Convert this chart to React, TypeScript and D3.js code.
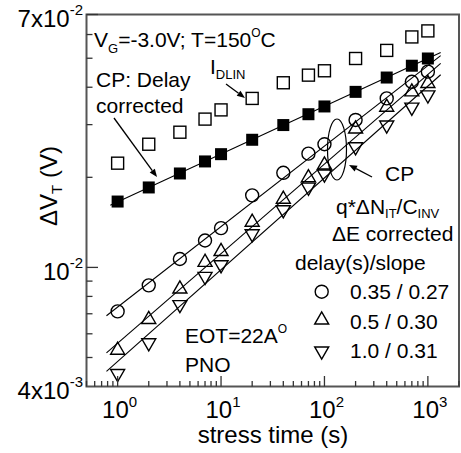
import React from 'react';
import * as d3 from 'd3';

const times = [1, 2, 4, 7, 10, 20, 40, 70, 100, 200, 400, 700, 1000];
const idlin = [0.0223, 0.0258, 0.0283, 0.0313, 0.0336, 0.0367, 0.0414, 0.0439, 0.0454, 0.0499, 0.0531, 0.0589, 0.0617];
const cpDelay = [0.0166, 0.0185, 0.0206, 0.0226, 0.0239, 0.0267, 0.0299, 0.0325, 0.0345, 0.0386, 0.0431, 0.0472, 0.0499];
const cp035 = [0.00713, 0.00871, 0.01067, 0.0123, 0.01353, 0.01741, 0.02071, 0.024, 0.0258, 0.0311, 0.0367, 0.0417, 0.0451];
const cp05 = [0.00529, 0.0067, 0.00847, 0.0104, 0.0113, 0.01416, 0.0169, 0.01995, 0.022, 0.029, 0.0343, 0.0386, 0.0412];
const cp10 = [0.00442, 0.0056, 0.00751, 0.00933, 0.0102, 0.01295, 0.01557, 0.01854, 0.0205, 0.0253, 0.0299, 0.0343, 0.0377];

const xMajor = [1, 10, 100, 1000];
const xMajorExp = ['0', '1', '2', '3'];
const yLabels = [
  { v: 0.07, base: '7x10', exp: '-2' },
  { v: 0.01, base: '10', exp: '-2' },
  { v: 0.004, base: '4x10', exp: '-3' },
];
const legendRows = [
  { shape: 'circle', label: '0.35 / 0.27' },
  { shape: 'up', label: '0.5 / 0.30' },
  { shape: 'down', label: '1.0 / 0.31' },
];

const W = 461;
const H = 453;
const FONT = "Arial, 'Liberation Sans', Helvetica, sans-serif";

const x = d3.scaleLog().domain([0.5, 2000]).range([86.5, 459]);
const y = d3.scaleLog().domain([0.004, 0.07]).range([386.5, 14.5]);

function fit(ts: number[], vs: number[]) {
  const lx = ts.map(Math.log10);
  const ly = vs.map(Math.log10);
  const mx = d3.mean(lx) as number;
  const my = d3.mean(ly) as number;
  let num = 0, den = 0;
  lx.forEach((v, i) => { num += (v - mx) * (ly[i] - my); den += (v - mx) * (v - mx); });
  const b = num / den;
  const a = my - b * mx;
  return (t: number) => Math.pow(10, a + b * Math.log10(t));
}

const S = 14;
const TH = (S * Math.sqrt(3)) / 2;
function triUp(cx: number, cy: number) {
  return `M${cx},${cy - (2 * TH) / 3}L${cx - S / 2},${cy + TH / 3}L${cx + S / 2},${cy + TH / 3}Z`;
}
function triDown(cx: number, cy: number) {
  return `M${cx},${cy + (2 * TH) / 3}L${cx - S / 2},${cy - TH / 3}L${cx + S / 2},${cy - TH / 3}Z`;
}

function Arrow({ x1, y1, x2, y2 }: { x1: number; y1: number; x2: number; y2: number }) {
  const ang = Math.atan2(y2 - y1, x2 - x1);
  const L = 8, Wd = 3.2;
  const bx = x2 - L * Math.cos(ang), by = y2 - L * Math.sin(ang);
  const px = -Math.sin(ang) * Wd, py = Math.cos(ang) * Wd;
  return (
    <g>
      <line x1={x1} y1={y1} x2={bx} y2={by} stroke="#000" strokeWidth={1.3} />
      <path d={`M${x2},${y2}L${bx + px},${by + py}L${bx - px},${by - py}Z`} fill="#000" />
    </g>
  );
}

export default function App() {
  const xMinor: number[] = [];
  [0.1, 1, 10, 100, 1000].forEach((d) => {
    for (let k = 2; k <= 9; k++) {
      const v = d * k;
      if (v >= 0.5 && v <= 2000) xMinor.push(v);
    }
  });
  const yMinor = [0.005, 0.006, 0.007, 0.008, 0.009, 0.02, 0.03, 0.04, 0.05, 0.06];
  const yMajor = [0.01, 0.07];

  const fits = [
    { f: fit(times, cpDelay), t0: 0.85, t1: 1330 },
    { f: fit(times, cp035), t0: 0.78, t1: 1330 },
    { f: fit(times, cp05), t0: 0.78, t1: 1330 },
    { f: fit(times, cp10), t0: 0.78, t1: 1330 },
  ];
  const line = d3.line<number[]>().x((d) => d[0]).y((d) => d[1]);

  const sq = 12;
  return (
    <svg width={W} height={H} style={{ position: 'absolute', left: 0, top: 0, background: '#fff' }} fontFamily={FONT}>
      <rect x={0} y={0} width={W} height={H} fill="#fff" />
      {/* fit lines */}
      {fits.map((fl, i) => (
        <path key={i} d={line([[x(fl.t0), y(fl.f(fl.t0))], [x(fl.t1), y(fl.f(fl.t1))]]) as string} stroke="#000" strokeWidth={1.1} fill="none" />
      ))}
      {/* open squares */}
      {times.map((t, i) => (
        <rect key={'o' + i} x={x(t) - sq / 2} y={y(idlin[i]) - sq / 2} width={sq} height={sq} fill="#fff" stroke="#000" strokeWidth={1.4} />
      ))}
      {/* filled squares */}
      {times.map((t, i) => (
        <rect key={'f' + i} x={x(t) - sq / 2} y={y(cpDelay[i]) - sq / 2} width={sq} height={sq} fill="#000" />
      ))}
      {/* circles */}
      {times.map((t, i) => (
        <circle key={'c' + i} cx={x(t)} cy={y(cp035[i])} r={6.5} fill="none" stroke="#000" strokeWidth={1.4} />
      ))}
      {times.map((t, i) => (
        <path key={'u' + i} d={triUp(x(t), y(cp05[i]))} fill="none" stroke="#000" strokeWidth={1.4} />
      ))}
      {times.map((t, i) => (
        <path key={'d' + i} d={triDown(x(t), y(cp10[i]))} fill="none" stroke="#000" strokeWidth={1.4} />
      ))}

      {/* frame */}
      <rect x={86.5} y={14.5} width={459 - 86.5} height={386.5 - 14.5} fill="none" stroke="#555" strokeWidth={2} />
      {/* x ticks */}
      {xMajor.map((t) => (
        <line key={'xM' + t} x1={x(t)} x2={x(t)} y1={386.5} y2={376} stroke="#333" strokeWidth={1.3} />
      ))}
      {xMinor.map((t) => (
        <line key={'xm' + t} x1={x(t)} x2={x(t)} y1={386.5} y2={381} stroke="#333" strokeWidth={1.3} />
      ))}
      {yMajor.map((v) => (
        <line key={'yM' + v} x1={86.5} x2={98} y1={y(v)} y2={y(v)} stroke="#333" strokeWidth={1.3} />
      ))}
      {yMinor.map((v) => (
        <line key={'ym' + v} x1={86.5} x2={92.5} y1={y(v)} y2={y(v)} stroke="#333" strokeWidth={1.3} />
      ))}
      {/* x tick labels */}
      {xMajor.map((t, i) => (
        <text key={'xl' + t} x={x(t) + 2} y={418} fontSize={24} textAnchor="middle">
          10<tspan fontSize={15} dy={-11}>{xMajorExp[i]}</tspan>
        </text>
      ))}
      {/* y tick labels */}
      {yLabels.map((l) => (
        <text key={'yl' + l.v} x={83} y={y(l.v) + 12.5} fontSize={24} textAnchor="end">
          {l.base}<tspan fontSize={15} dy={-12}>{l.exp}</tspan>
        </text>
      ))}
      {/* axis titles */}
      <text x={273} y={443} fontSize={24} textAnchor="middle">stress time (s)</text>
      <text transform="translate(57,186) rotate(-90)" fontSize={24} textAnchor="middle">
        ΔV<tspan fontSize={15} dy={5}>T</tspan><tspan dy={-5}> (V)</tspan>
      </text>

      {/* annotations */}
      <text x={94} y={47} fontSize={21}>
        V<tspan fontSize={13} dy={6}>G</tspan><tspan dy={-6}>=-3.0V; T=150</tspan><tspan fontSize={12} dy={-10}>O</tspan><tspan dy={10}>C</tspan>
      </text>
      <text x={210} y={74} fontSize={21}>
        I<tspan fontSize={13} dy={5}>DLIN</tspan>
      </text>
      <Arrow x1={226} y1={84} x2={245} y2={98} />
      <text x={96} y={87} fontSize={21}>CP: Delay</text>
      <text x={96} y={113} fontSize={21}>corrected</text>
      <Arrow x1={114} y1={118} x2={157} y2={177} />
      <ellipse cx={337} cy={149.5} rx={9.5} ry={30.5} fill="none" stroke="#000" strokeWidth={1.2} />
      <text x={385} y={181} fontSize={21}>CP</text>
      <Arrow x1={372} y1={177} x2={349} y2={165} />
      <text x={336} y={214} fontSize={21}>
        q*ΔN<tspan fontSize={13} dy={4}>IT</tspan><tspan dy={-4}>/C</tspan><tspan fontSize={13} dy={4}>INV</tspan>
      </text>
      <text x={332} y={241} fontSize={21}>ΔE corrected</text>
      <text x={295} y={270} fontSize={21}>delay(s)/slope</text>
      {legendRows.map((r, i) => {
        const cy = [291.7, 320, 351][i];
        return (
          <g key={'lg' + i}>
            {r.shape === 'circle' && <circle cx={321.7} cy={cy} r={6.5} fill="none" stroke="#000" strokeWidth={1.4} />}
            {r.shape === 'up' && <path d={triUp(321.7, cy)} fill="none" stroke="#000" strokeWidth={1.4} />}
            {r.shape === 'down' && <path d={triDown(321.7, cy)} fill="none" stroke="#000" strokeWidth={1.4} />}
            <text x={350} y={[299, 329, 358][i]} fontSize={21}>{r.label}</text>
          </g>
        );
      })}
      <text x={185} y={343} fontSize={21}>
        EOT=22A<tspan fontSize={12} dy={-10}>O</tspan>
      </text>
      <text x={185} y={372} fontSize={21}>PNO</text>
    </svg>
  );
}
